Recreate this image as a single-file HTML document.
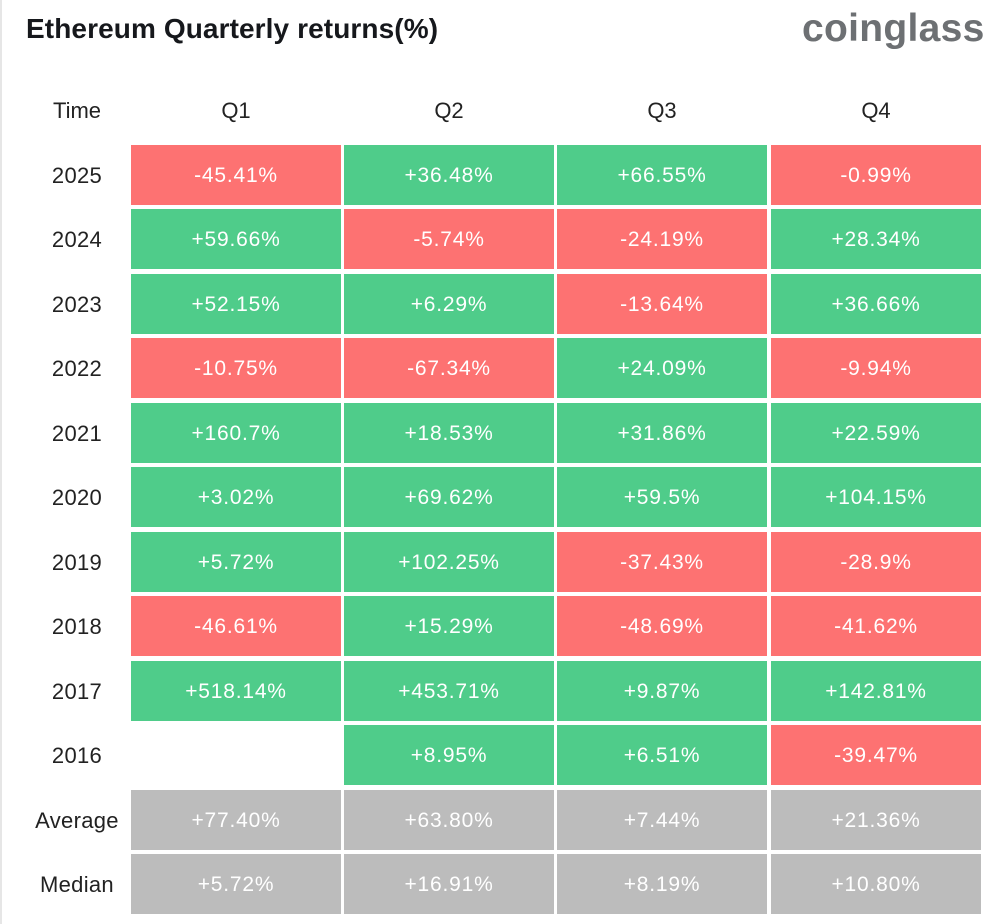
<!DOCTYPE html>
<html><head><meta charset="utf-8"><style>
body{margin:0;width:1000px;height:924px;background:#fff;position:relative;overflow:hidden;font-family:"Liberation Sans",sans-serif}
.edge{position:absolute;left:0;top:0;width:2px;height:924px;background:#e6e6e6}
.title{position:absolute;left:26px;top:13px;font-size:28px;font-weight:bold;color:#16181c;letter-spacing:0.1px}
.logo{position:absolute;left:802px;top:7px;font-size:39px;font-weight:bold;color:#6d7073;letter-spacing:0.3px}
.c{position:absolute;width:210px;height:60px;line-height:62px;text-align:center;color:#fff;font-size:21px;letter-spacing:0.8px}
.r{background:#fd7272}.g{background:#4fcc8a}.a{background:#bcbcbc}
.l{position:absolute;width:110px;left:22px;text-align:center;font-size:22px;color:#222;height:60px;line-height:62px;letter-spacing:0.3px}
.h{position:absolute;width:210px;text-align:center;font-size:22px;color:#222;top:98px}
</style></head><body>
<div class="edge"></div>
<div class="title">Ethereum Quarterly returns(%)</div>
<div class="logo">coinglass</div>
<div class="h" style="left:22px;width:110px">Time</div>
<div class="h" style="left:131px">Q1</div>
<div class="h" style="left:344px">Q2</div>
<div class="h" style="left:557px">Q3</div>
<div class="h" style="left:771px">Q4</div>
<div id="t"></div>
<script>
var rows=[["2025","r-45.41%","g+36.48%","g+66.55%","r-0.99%"],["2024","g+59.66%","r-5.74%","r-24.19%","g+28.34%"],["2023","g+52.15%","g+6.29%","r-13.64%","g+36.66%"],["2022","r-10.75%","r-67.34%","g+24.09%","r-9.94%"],["2021","g+160.7%","g+18.53%","g+31.86%","g+22.59%"],["2020","g+3.02%","g+69.62%","g+59.5%","g+104.15%"],["2019","g+5.72%","g+102.25%","r-37.43%","r-28.9%"],["2018","r-46.61%","g+15.29%","r-48.69%","r-41.62%"],["2017","g+518.14%","g+453.71%","g+9.87%","g+142.81%"],["2016","","g+8.95%","g+6.51%","r-39.47%"],["Average","a+77.40%","a+63.80%","a+7.44%","a+21.36%"],["Median","a+5.72%","a+16.91%","a+8.19%","a+10.80%"]];
var xs=[131,344,557,771],h="";
rows.forEach(function(r,i){var y=Math.round(145+i*64.45);h+='<div class="l" style="top:'+y+'px">'+r[0]+'</div>';
for(var j=1;j<5;j++){if(!r[j])continue;h+='<div class="c '+r[j][0]+'" style="left:'+xs[j-1]+'px;top:'+y+'px">'+r[j].slice(1)+'</div>';}});
document.getElementById('t').innerHTML=h;
</script>
</body></html>
